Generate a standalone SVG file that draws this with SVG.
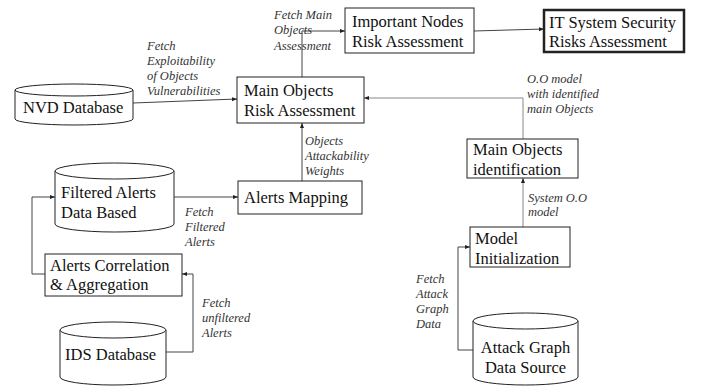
<svg xmlns="http://www.w3.org/2000/svg" width="708" height="387" viewBox="0 0 708 387">
<defs>
<marker id="ah" viewBox="0 0 10 10" refX="10" refY="5" markerWidth="5" markerHeight="5" orient="auto-start-reverse" markerUnits="userSpaceOnUse"><path d="M0,1 L10,5 L0,9 z" fill="#222"/></marker>
<style>
.n{fill:#fff;stroke:#222;stroke-width:1}
.t{font-family:"Liberation Serif","Times New Roman",serif;font-size:16.5px;fill:#111}
.l{font-family:"Liberation Serif","Times New Roman",serif;font-size:12.5px;font-style:italic;fill:#333}
.c{fill:none;stroke:#444;stroke-width:1;marker-end:url(#ah)}
.g{stroke:#888}
</style>
</defs>
<rect width="708" height="387" fill="#fff"/>
<g id="connectors">
<path class="c" d="M133,103 L237,99"/>
<path class="c" d="M302,77 L302,31 L345,31"/>
<path class="c" d="M474,31 L544,29"/>
<path class="c g" d="M523,139 L523,98 L364,98"/>
<path class="c g" d="M523,227 L523,178"/>
<path class="c" d="M473,350 L458,350 L458,247 L470,247"/>
<path class="c" d="M302,181 L302,123"/>
<path class="c" d="M174,197 L238,197"/>
<path class="c" d="M45,274 L32,274 L32,197 L55,197"/>
<path class="c" d="M166,352 L193,352 L193,274 L182,274"/>
</g>
<g id="labels">
<text class="l"><tspan x="147" y="50">Fetch</tspan><tspan x="147" y="65">Exploitability</tspan><tspan x="147" y="80">of Objects</tspan><tspan x="147" y="95">Vulnerabilities</tspan></text>
<text class="l"><tspan x="274" y="19">Fetch Main</tspan><tspan x="274" y="34">Objects</tspan><tspan x="274" y="50">Assessment</tspan></text>
<text class="l"><tspan x="527" y="83">O.O model</tspan><tspan x="527" y="98">with identified</tspan><tspan x="527" y="113">main Objects</tspan></text>
<text class="l"><tspan x="305" y="145">Objects</tspan><tspan x="305" y="160">Attackability</tspan><tspan x="305" y="175">Weights</tspan></text>
<text class="l"><tspan x="528" y="202">System O.O</tspan><tspan x="528" y="216">model</tspan></text>
<text class="l"><tspan x="185" y="216">Fetch</tspan><tspan x="185" y="231">Filtered</tspan><tspan x="185" y="246">Alerts</tspan></text>
<text class="l"><tspan x="202" y="307">Fetch</tspan><tspan x="202" y="322">unfiltered</tspan><tspan x="202" y="337">Alerts</tspan></text>
<text class="l"><tspan x="416" y="283">Fetch</tspan><tspan x="416" y="298">Attack</tspan><tspan x="416" y="313">Graph</tspan><tspan x="416" y="328">Data</tspan></text>
</g>
<g id="important-nodes">
<rect class="n" x="345" y="8" width="129" height="45"/>
<text class="t"><tspan x="352" y="27">Important Nodes</tspan><tspan x="352" y="47">Risk Assessment</tspan></text>
</g>
<g id="it-system">
<rect class="n" x="544" y="10" width="140" height="42" style="stroke-width:2.5"/>
<text class="t"><tspan x="549" y="28">IT System Security</tspan><tspan x="549" y="47">Risks Assessment</tspan></text>
</g>
<g id="main-objects-risk">
<rect class="n" x="237" y="77" width="127" height="46"/>
<text class="t"><tspan x="244" y="96">Main Objects</tspan><tspan x="244" y="116">Risk Assessment</tspan></text>
</g>
<g id="nvd-database">
<path class="n" d="M15,90 L15,119 A59,6 0 0 0 133,119 L133,90"/>
<ellipse class="n" cx="74" cy="90" rx="59" ry="6"/>
<text class="t" x="23" y="113">NVD Database</text>
</g>
<g id="filtered-alerts">
<path class="n" d="M55,171 L55,224 A59.5,8 0 0 0 174,224 L174,171"/>
<ellipse class="n" cx="114.5" cy="171" rx="59.5" ry="8"/>
<text class="t"><tspan x="61" y="198">Filtered Alerts</tspan><tspan x="61" y="218">Data Based</tspan></text>
</g>
<g id="alerts-mapping">
<rect class="n" x="238" y="181" width="124" height="33"/>
<text class="t" x="244" y="203">Alerts Mapping</text>
</g>
<g id="alerts-correlation">
<rect class="n" x="45" y="254" width="137" height="42"/>
<text class="t"><tspan x="50" y="271">Alerts Correlation</tspan><tspan x="50" y="290">&amp; Aggregation</tspan></text>
</g>
<g id="ids-database">
<path class="n" d="M60,330 L60,377 A53,8 0 0 0 166,377 L166,330"/>
<ellipse class="n" cx="113" cy="330" rx="53" ry="8"/>
<text class="t" x="65" y="360">IDS Database</text>
</g>
<g id="main-objects-identification">
<rect class="n" x="467" y="139" width="111" height="39"/>
<text class="t"><tspan x="473" y="155">Main Objects</tspan><tspan x="473" y="175">identification</tspan></text>
</g>
<g id="model-initialization">
<rect class="n" x="470" y="227" width="100" height="40"/>
<text class="t"><tspan x="475" y="244">Model</tspan><tspan x="475" y="264">Initialization</tspan></text>
</g>
<g id="attack-graph">
<path class="n" d="M473,321 L473,377 A52.5,8 0 0 0 578,377 L578,321"/>
<ellipse class="n" cx="525.5" cy="321" rx="52.5" ry="8"/>
<text class="t" text-anchor="middle"><tspan x="525.5" y="353">Attack Graph</tspan><tspan x="525.5" y="373">Data Source</tspan></text>
</g>
</svg>
